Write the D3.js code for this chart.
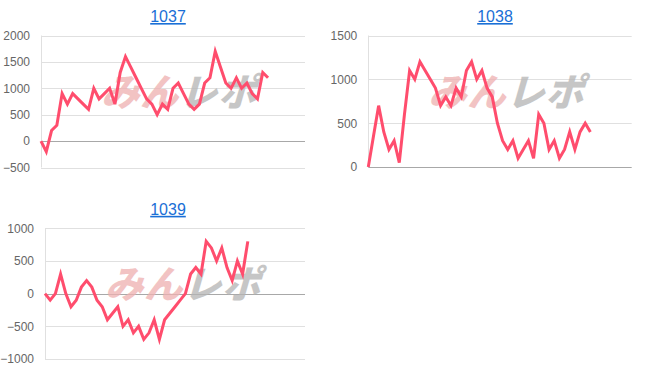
<!DOCTYPE html>
<html>
<head>
<meta charset="utf-8">
<script src="https://cdn.jsdelivr.net/npm/d3@7"></script>
<style>
	body { margin: 0; background: #fff; }
	svg { display: block; font-family: Arial, "Liberation Sans", sans-serif; }
</style>
</head>
<body>
<div id="charts"></div>
<script>
// machine numbers shown as chart titles
const titles = ["1037", "1038", "1039"];

// difference values per game slot
const values1037 = [0, -200, 200, 300, 900, 700, 900, 800, 700, 600, 1000, 800, 900, 1000, 700, 1300,
	1600, 1400, 1200, 1000, 800, 700, 500, 700, 600, 1000, 1100, 900, 700, 600, 700, 1100,
	1200, 1700, 1400, 1100, 1000, 1200, 1000, 1100, 900, 800, 1300, 1200];
const values1038 = [0, 350, 700, 400, 200, 300, 50, 600, 1100, 1000, 1200, 1100, 1000, 900, 700, 800,
	700, 900, 800, 1100, 1200, 1000, 1100, 900, 800, 500, 300, 200, 300, 100, 200, 300,
	100, 600, 500, 200, 300, 100, 200, 400, 200, 400, 500, 400];
const values1039 = [0, -100, 0, 300, 0, -200, -100, 100, 200, 100, -100, -200, -400, -300, -200, -500,
	-400, -600, -500, -700, -600, -400, -700, -400, -300, -200, -100, 0, 300, 400, 300, 800,
	700, 500, 700, 400, 200, 500, 300, 800];

// y axis ticks
const ticks1037 = [-500, 0, 500, 1000, 1500, 2000];
const ticks1038 = [0, 500, 1000, 1500];
const ticks1039 = [-1000, -500, 0, 500, 1000];

const width = 652, height = 382;

const charts = [
	{title: titles[0], values: values1037, ticks: ticks1037, slots: 50, left: 41, right: 305, top: 35.5, bottom: 167.5, titleX: 168},
	{title: titles[1], values: values1038, ticks: ticks1038, slots: 51, left: 368.3, right: 631.7, top: 35.5, bottom: 167, titleX: 495},
	{title: titles[2], values: values1039, ticks: ticks1039, slots: 50, left: 45, right: 305, top: 228.3, bottom: 359, titleX: 168}
];

const svg = d3.select("#charts")
	.append("svg")
	.attr("width", width)
	.attr("height", height);

charts.forEach(c => {
	let g = svg.append("g");

	let x = d3.scaleLinear().domain([0, c.slots]).range([c.left, c.right]);
	let y = d3.scaleLinear().domain(d3.extent(c.ticks)).range([c.bottom, c.top]);

	// title (link style)
	g.append("text")
		.attr("x", c.titleX)
		.attr("y", c.top - 13.5)
		.attr("text-anchor", "middle")
		.style("font-size", "16px")
		.style("fill", "#1a6fd6")
		.style("text-decoration", "underline")
		.text(c.title);

	// grid lines
	g.selectAll("line.grid")
		.data(c.ticks)
		.enter().append("line")
		.attr("class", "grid")
		.attr("x1", c.left)
		.attr("x2", c.right)
		.attr("y1", d => Math.round(y(d)) + 0.5)
		.attr("y2", d => Math.round(y(d)) + 0.5)
		.style("stroke", d => d === 0 ? "#a8a8a8" : "#e0e0e0")
		.style("stroke-width", "1px");

	// vertical axis line
	g.append("line")
		.attr("x1", Math.round(c.left) + 0.5)
		.attr("x2", Math.round(c.left) + 0.5)
		.attr("y1", c.top)
		.attr("y2", c.bottom)
		.style("stroke", "#e0e0e0");

	let yAxis = d3.axisLeft(y).tickValues(c.ticks).tickFormat(d3.format("d")).tickSize(0).tickPadding(11);
	let axisG = g.append("g")
		.attr("transform", "translate(" + c.left + ",0)")
		.call(yAxis);
	axisG.select(".domain").remove();
	axisG.selectAll("text")
		.style("font-size", "12px")
		.style("fill", "#666")
		.attr("font-family", null);

	// watermark
	let wm = g.append("text")
		.attr("transform", "translate(" + (c.left + 64) + "," + (c.top + (c.bottom - c.top) * 0.43) + ") skewX(-16)")
		.attr("dy", "0.36em")
		.style("font-size", "38px")
		.style("font-weight", "900")
		.style("font-family", "'Noto Sans CJK JP', sans-serif")
		.style("letter-spacing", "1px")
		.style("opacity", 0.75);
	wm.append("tspan").style("fill", "#eeb0b0").text("みん");
	wm.append("tspan").style("fill", "#b4b4b4").text("レポ");

	let line = d3.line()
		.x((d, i) => x(i))
		.y(d => y(d));

	g.append("path")
		.datum(c.values)
		.attr("d", line)
		.style("fill", "none")
		.style("stroke", "#ff4d6d")
		.style("stroke-width", "3px")
		.style("stroke-linejoin", "miter");
});
</script>
</body>
</html>
